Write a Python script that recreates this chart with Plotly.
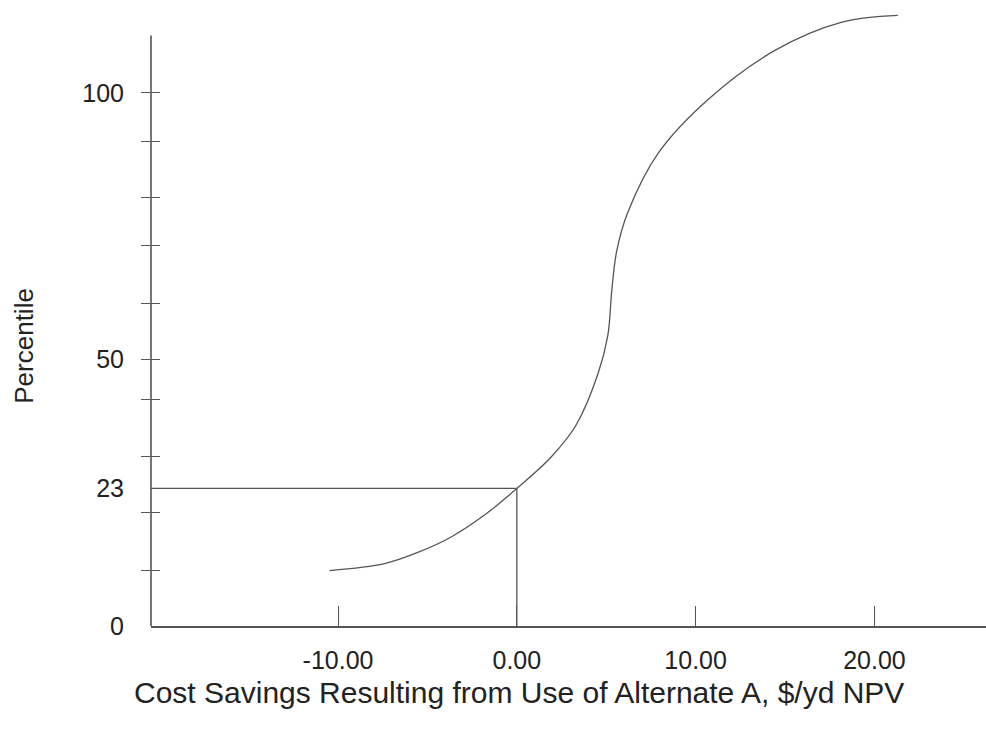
import plotly.graph_objects as go

# ---- data ----
curve_x = [-10.48, -7.40, -5.54, -3.67, -1.81, 0.0, 1.92, 3.30, 4.53, 5.09, 5.31,
           5.59, 6.21, 7.89, 10.68, 14.41, 18.14, 21.31]
curve_y = [10.4, 11.7, 13.8, 16.7, 20.8, 25.8, 31.7, 37.6, 47.2, 54.5, 62.9,
           70.4, 77.6, 88.6, 98.7, 107.9, 113.2, 114.5]

ref_x = 0.0            # cost savings of zero
ref_y = 25.8           # percentile level marked "23"

x_ticks = [-10, 0, 10, 20]
x_tick_text = ["-10.00", "0.00", "10.00", "20.00"]
y_label_vals = [0, 25.8, 50, 100]
y_label_text = ["0", "23", "50", "100"]
y_tick_marks = [10.4, 21.3, 31.8, 42.4, 50, 60.4, 71.4, 80.4, 90.9, 100]

x_range = [-20.46, 26.24]
y_range = [0, 115.15]
y_axis_top = 110.75

LINE = "#555555"
TEXT = "#222222"
FONT = "Liberation Sans, Arial, sans-serif"

fig = go.Figure()

fig.add_trace(go.Scatter(
    x=curve_x, y=curve_y, mode="lines",
    line=dict(color=LINE, width=1.3, shape="spline", smoothing=1.0),
    hoverinfo="skip", showlegend=False))

fig.add_trace(go.Scatter(
    x=[x_range[0], ref_x, ref_x], y=[ref_y, ref_y, y_range[0]], mode="lines",
    line=dict(color=LINE, width=1.3), hoverinfo="skip", showlegend=False))

# invisible traces so the tick-mark overlay axes exist
fig.add_trace(go.Scatter(x=[], y=[], yaxis="y2", showlegend=False))
fig.add_trace(go.Scatter(x=[], y=[], yaxis="y3", showlegend=False))

fig.update_layout(
    width=986, height=743,
    margin=dict(l=151, r=0, t=12, b=117),
    paper_bgcolor="white", plot_bgcolor="white",
    font=dict(family=FONT, color=TEXT, size=25),
    xaxis=dict(
        range=x_range, showgrid=False, zeroline=False,
        showline=True, linecolor=LINE, linewidth=1.6,
        ticks="inside", ticklen=20, tickwidth=1.3, tickcolor=LINE,
        tickvals=x_ticks, ticktext=x_tick_text,
        tickfont=dict(size=25, color=TEXT), ticklabelstandoff=11,
        fixedrange=True),
    yaxis=dict(
        range=y_range, showgrid=False, zeroline=False, showline=False,
        ticks="", tickvals=y_label_vals, ticktext=y_label_text,
        tickfont=dict(size=25, color=TEXT), ticklabelstandoff=26,
        fixedrange=True),
    yaxis2=dict(
        range=y_range, overlaying="y", anchor="x", side="left",
        showgrid=False, zeroline=False, showline=False,
        ticks="outside", ticklen=9, tickwidth=1.3, tickcolor=LINE,
        tickvals=y_tick_marks, showticklabels=False, fixedrange=True),
    yaxis3=dict(
        range=y_range, overlaying="y", anchor="x", side="left",
        showgrid=False, zeroline=False, showline=False,
        ticks="inside", ticklen=9, tickwidth=1.3, tickcolor=LINE,
        tickvals=y_tick_marks, showticklabels=False, fixedrange=True),
    shapes=[dict(type="line", xref="paper", yref="y", x0=0, x1=0,
                 y0=y_range[0], y1=y_axis_top,
                 line=dict(color=LINE, width=1.6))],
    annotations=[
        dict(text="Cost Savings Resulting from Use of Alternate A, $/yd NPV",
             xref="paper", yref="paper", x=0.441, y=-0.1084,
             xanchor="center", yanchor="middle", showarrow=False,
             font=dict(size=30, color=TEXT)),
        dict(text="Percentile", xref="paper", yref="paper", x=-0.1517, y=0.457,
             xanchor="center", yanchor="middle", textangle=-90, showarrow=False,
             font=dict(size=26, color=TEXT)),
    ],
)

fig.write_html("out.html")
